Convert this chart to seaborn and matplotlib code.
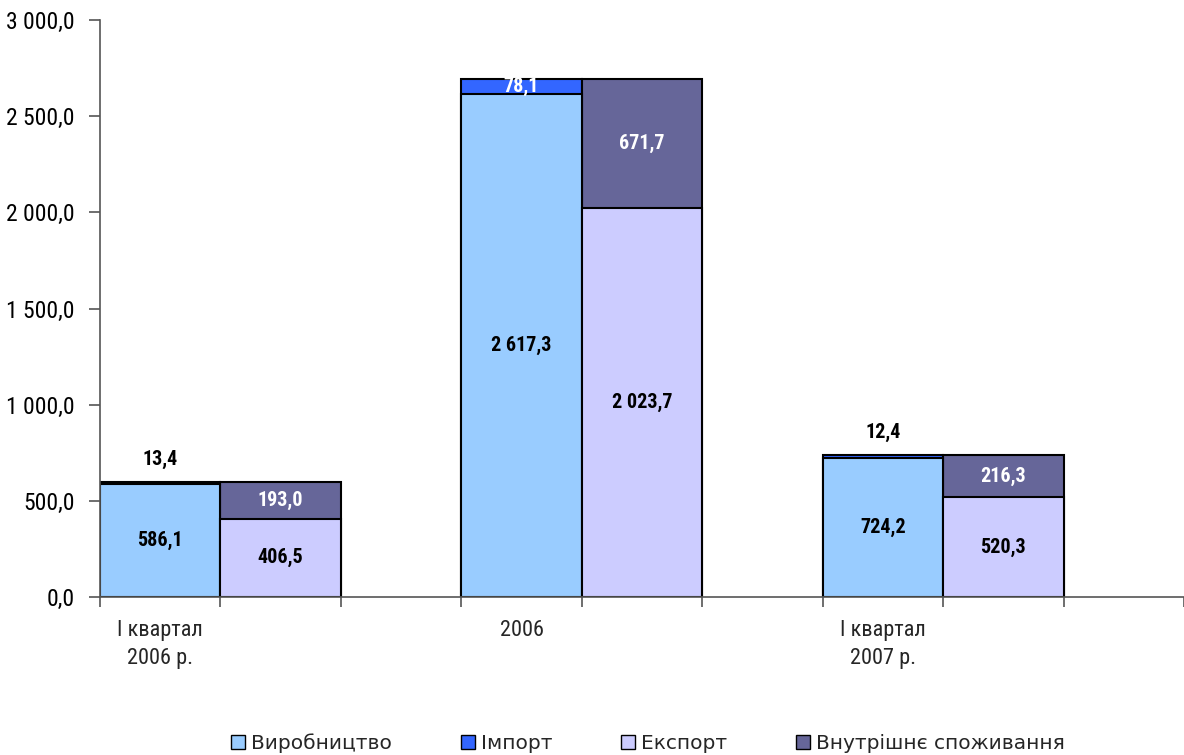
import matplotlib
matplotlib.use("Agg")
import matplotlib.pyplot as plt
import seaborn as sns
import pandas as pd
from matplotlib.patches import Patch
from matplotlib.ticker import FuncFormatter, MultipleLocator
from matplotlib import font_manager

categories = ["I квартал\n2006 р.", "2006", "I квартал\n2007 р."]
vyrobnytstvo = [586.1, 2617.3, 724.2]
import_ = [13.4, 78.1, 12.4]
eksport = [406.5, 2023.7, 520.3]
vnutrishne = [193.0, 671.7, 216.3]
series_names = ["Виробництво", "Імпорт", "Експорт", "Внутрішнє споживання"]
colors = ["#99CCFF", "#3366FF", "#CCCCFF", "#666699"]

sns.set_style("white")
available = {f.name for f in font_manager.fontManager.ttflist}
narrow_pref = ["Liberation Sans Narrow", "Roboto Condensed", "Arial Narrow", "Liberation Sans"]
narrow_name = next((n for n in narrow_pref if n in available), "DejaVu Sans")
is_narrow = narrow_name != "Liberation Sans"
narrow = [narrow_name, "DejaVu Sans"]
plt.rcParams["font.family"] = narrow

tick_fs = 17 if is_narrow else 15
cat_fs = 16 if is_narrow else 14
val_fs = 14.5 if is_narrow else 13


def fmt(v):
    return f"{v:,.1f}".replace(",", " ").replace(".", ",")


fig = plt.figure(figsize=(11.84, 7.55), dpi=100)
ax = fig.add_axes([100 / 1184, 1 - 597 / 755, 1 - 100 / 1184, (597 - 20) / 755])

# 9 slots: for each category, [stack A, stack B, gap]
rows_total, rows_base = [], []
for i in range(3):
    sA, sB = 3 * i, 3 * i + 1
    rows_total.append({"slot": sA, "val": vyrobnytstvo[i] + import_[i], "s": "A"})
    rows_total.append({"slot": sB, "val": eksport[i] + vnutrishne[i], "s": "B"})
    rows_base.append({"slot": sA, "val": vyrobnytstvo[i], "s": "A"})
    rows_base.append({"slot": sB, "val": eksport[i], "s": "B"})
df_total = pd.DataFrame(rows_total)
df_base = pd.DataFrame(rows_base)
order = list(range(9))

sns.barplot(data=df_total, x="slot", y="val", hue="s", order=order, dodge=False,
            width=1.0, palette={"A": colors[1], "B": colors[3]}, saturation=1,
            edgecolor="black", linewidth=1.5, legend=False, ax=ax)
sns.barplot(data=df_base, x="slot", y="val", hue="s", order=order, dodge=False,
            width=1.0, palette={"A": colors[0], "B": colors[2]}, saturation=1,
            edgecolor="black", linewidth=1.5, legend=False, ax=ax)

ax.set_xlim(-0.5, 8.5)
ax.set_ylim(0, 3000)
ax.yaxis.set_major_locator(MultipleLocator(500))
ax.yaxis.set_major_formatter(FuncFormatter(lambda v, p: fmt(v)))
ax.set_xticks([s - 0.5 for s in range(10)])
ax.set_xticklabels([])
for i, c in enumerate(categories):
    ax.text(3 * i, -120, c, ha="center", va="top", fontsize=cat_fs,
            family=narrow, linespacing=1.45)
ax.set_xlabel("")
ax.set_ylabel("")
for s in ["top", "right"]:
    ax.spines[s].set_visible(False)
for s in ["left", "bottom"]:
    ax.spines[s].set_color("#555555")
    ax.spines[s].set_linewidth(1.2)
ax.tick_params(axis="y", which="major", length=8, width=1.2, color="#555555",
               labelsize=tick_fs, pad=10, left=True, labelcolor="black")
ax.tick_params(axis="x", which="major", length=7, width=1.2, color="#555555",
               bottom=True)
ax.grid(False)

lab_kw = dict(ha="center", va="center", fontsize=val_fs, fontweight="bold", family=narrow)
for i in range(3):
    sA, sB = 3 * i, 3 * i + 1
    ax.text(sA, vyrobnytstvo[i] / 2, fmt(vyrobnytstvo[i]), color="black", **lab_kw)
    ax.text(sB, eksport[i] / 2, fmt(eksport[i]), color="black", **lab_kw)
    ax.text(sB, eksport[i] + vnutrishne[i] / 2, fmt(vnutrishne[i]), color="white", **lab_kw)
    if import_[i] > 50:
        ax.text(sA, vyrobnytstvo[i] + import_[i] / 2, fmt(import_[i]), color="white", **lab_kw)
    else:
        ax.text(sA, vyrobnytstvo[i] + import_[i] + 118, fmt(import_[i]), color="black", **lab_kw)

handles = [Patch(facecolor=c, edgecolor="black", linewidth=1.0) for c in colors]
fig.legend(handles, series_names, loc="center", bbox_to_anchor=(648 / 1184, 1 - 743 / 755),
           ncol=4, frameon=False, prop={"family": "DejaVu Sans", "size": 14.5},
           handlelength=0.7, handleheight=0.7, handletextpad=0.3, columnspacing=3.4)

fig.savefig("out.png", dpi=100)
